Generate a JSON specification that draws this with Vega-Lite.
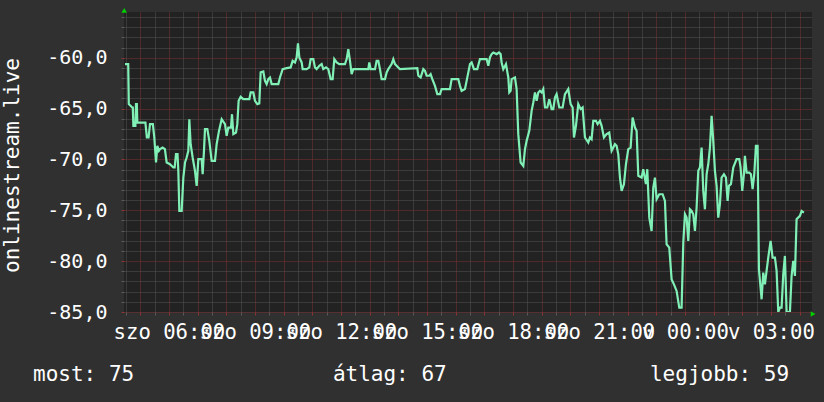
{
  "$schema": "https://vega.github.io/schema/vega-lite/v6.json",
  "width": 688,
  "height": 300,
  "autosize": "none",
  "padding": {"left": 124, "top": 12, "right": 12, "bottom": 90},
  "background": "#303030",
  "config": {
    "view": {"fill": "#222222", "stroke": null},
    "font": "DejaVu Sans Mono",
    "axis": {"domain": false, "labelFont": "DejaVu Sans Mono", "titleFont": "DejaVu Sans Mono"}
  },
  "datasets": {
    "rssi": [
      {"h":4.468,"v":-60.62},{"h":4.58,"v":-60.62},{"h":4.60,"v":-64.56},{"h":4.72,"v":-64.89},{"h":4.74,"v":-64.89},{"h":4.76,"v":-66.69},{"h":4.83,"v":-66.69},{"h":4.852,"v":-64.56},{"h":4.88,"v":-64.56},{"h":4.898,"v":-66.37},{"h":5.18,"v":-66.37},{"h":5.23,"v":-67.84},{"h":5.29,"v":-67.84},{"h":5.34,"v":-66.53},{"h":5.44,"v":-66.53},{"h":5.49,"v":-67.84},{"h":5.55,"v":-70.30},{"h":5.596,"v":-68.66},{"h":5.65,"v":-69.15},{"h":5.69,"v":-68.99},{"h":5.78,"v":-68.83},{"h":5.86,"v":-68.99},{"h":5.921,"v":-70.30},{"h":6.037,"v":-70.47},{"h":6.154,"v":-70.79},{"h":6.20,"v":-70.79},{"h":6.247,"v":-69.48},{"h":6.30,"v":-69.48},{"h":6.328,"v":-71.12},{"h":6.363,"v":-75.06},{"h":6.444,"v":-75.06},{"h":6.503,"v":-71.78},{"h":6.561,"v":-70.30},{"h":6.619,"v":-69.81},{"h":6.677,"v":-69.15},{"h":6.712,"v":-66.04},{"h":6.758,"v":-68.50},{"h":6.828,"v":-69.81},{"h":6.909,"v":-71.12},{"h":6.968,"v":-72.60},{"h":7.026,"v":-69.97},{"h":7.142,"v":-69.97},{"h":7.177,"v":-71.45},{"h":7.223,"v":-69.15},{"h":7.258,"v":-67.02},{"h":7.340,"v":-67.02},{"h":7.409,"v":-68.17},{"h":7.491,"v":-70.14},{"h":7.607,"v":-70.14},{"h":7.665,"v":-68.50},{"h":7.747,"v":-67.19},{"h":7.840,"v":-66.04},{"h":7.956,"v":-66.53},{"h":8.014,"v":-67.68},{"h":8.072,"v":-66.86},{"h":8.165,"v":-66.86},{"h":8.200,"v":-65.55},{"h":8.247,"v":-67.51},{"h":8.340,"v":-67.35},{"h":8.386,"v":-66.53},{"h":8.432,"v":-64.23},{"h":8.502,"v":-63.84},{"h":8.595,"v":-64.07},{"h":8.805,"v":-64.07},{"h":8.851,"v":-63.41},{"h":8.944,"v":-63.41},{"h":9.002,"v":-64.23},{"h":9.084,"v":-64.56},{"h":9.153,"v":-64.50},{"h":9.200,"v":-61.44},{"h":9.293,"v":-61.35},{"h":9.351,"v":-62.27},{"h":9.409,"v":-62.59},{"h":9.467,"v":-62.10},{"h":9.526,"v":-61.94},{"h":9.584,"v":-62.59},{"h":9.816,"v":-62.59},{"h":9.874,"v":-61.94},{"h":9.967,"v":-61.12},{"h":10.107,"v":-61.02},{"h":10.246,"v":-60.95},{"h":10.316,"v":-60.30},{"h":10.397,"v":-60.46},{"h":10.456,"v":-59.97},{"h":10.502,"v":-58.59},{"h":10.549,"v":-59.97},{"h":10.630,"v":-60.46},{"h":10.665,"v":-61.12},{"h":10.804,"v":-61.12},{"h":10.897,"v":-60.95},{"h":10.944,"v":-60.13},{"h":11.037,"v":-60.13},{"h":11.095,"v":-60.95},{"h":11.153,"v":-61.12},{"h":11.246,"v":-60.79},{"h":11.328,"v":-60.62},{"h":11.386,"v":-61.12},{"h":11.479,"v":-60.95},{"h":11.560,"v":-61.12},{"h":11.642,"v":-62.10},{"h":11.711,"v":-62.10},{"h":11.769,"v":-60.13},{"h":11.851,"v":-60.46},{"h":11.944,"v":-60.62},{"h":12.141,"v":-60.62},{"h":12.200,"v":-60.13},{"h":12.258,"v":-59.15},{"h":12.316,"v":-60.30},{"h":12.374,"v":-61.61},{"h":12.432,"v":-61.12},{"h":12.955,"v":-61.12},{"h":12.990,"v":-60.46},{"h":13.037,"v":-61.12},{"h":13.188,"v":-61.12},{"h":13.246,"v":-60.30},{"h":13.304,"v":-60.30},{"h":13.362,"v":-61.12},{"h":13.420,"v":-62.10},{"h":13.537,"v":-62.10},{"h":13.595,"v":-61.44},{"h":13.653,"v":-61.12},{"h":13.769,"v":-60.62},{"h":13.827,"v":-60.13},{"h":13.886,"v":-60.62},{"h":14.002,"v":-60.95},{"h":14.060,"v":-61.12},
      {"h":14.665,"v":-61.02},{"h":14.699,"v":-61.77},{"h":14.781,"v":-61.94},{"h":14.874,"v":-61.12},{"h":14.932,"v":-61.28},{"h":14.990,"v":-61.77},{"h":15.083,"v":-61.77},{"h":15.130,"v":-61.61},{"h":15.188,"v":-62.10},{"h":15.281,"v":-62.76},{"h":15.362,"v":-63.58},{"h":15.455,"v":-63.58},{"h":15.513,"v":-63.08},{"h":15.804,"v":-63.08},{"h":15.862,"v":-62.10},{"h":16.095,"v":-62.10},{"h":16.153,"v":-62.76},{"h":16.211,"v":-63.25},{"h":16.327,"v":-63.08},{"h":16.385,"v":-62.27},{"h":16.502,"v":-60.62},{"h":16.560,"v":-60.46},{"h":16.641,"v":-61.12},{"h":16.757,"v":-61.12},{"h":16.850,"v":-60.13},{"h":17.083,"v":-60.13},{"h":17.141,"v":-60.79},{"h":17.199,"v":-59.97},{"h":17.257,"v":-59.64},{"h":17.316,"v":-59.48},{"h":17.432,"v":-59.64},{"h":17.513,"v":-59.48},{"h":17.571,"v":-59.64},{"h":17.606,"v":-60.46},{"h":17.664,"v":-61.12},{"h":17.757,"v":-60.62},{"h":17.839,"v":-61.94},{"h":17.873,"v":-63.41},{"h":17.920,"v":-63.25},{"h":17.955,"v":-62.10},{"h":18.071,"v":-61.94},{"h":18.129,"v":-63.08},{"h":18.187,"v":-67.51},{"h":18.269,"v":-70.30},{"h":18.362,"v":-70.63},{"h":18.420,"v":-68.99},{"h":18.478,"v":-68.17},{"h":18.571,"v":-67.19},{"h":18.652,"v":-65.22},{"h":18.711,"v":-64.40},{"h":18.769,"v":-63.41},{"h":18.827,"v":-64.23},{"h":18.885,"v":-63.41},{"h":18.943,"v":-63.25},{"h":19.001,"v":-63.41},{"h":19.059,"v":-63.08},{"h":19.118,"v":-64.89},{"h":19.199,"v":-64.89},{"h":19.269,"v":-64.07},{"h":19.350,"v":-65.05},{"h":19.408,"v":-65.05},{"h":19.466,"v":-63.91},{"h":19.524,"v":-63.58},{"h":19.617,"v":-64.89},{"h":19.734,"v":-64.89},{"h":19.815,"v":-63.58},{"h":19.931,"v":-63.08},{"h":20.013,"v":-64.56},{"h":20.083,"v":-64.89},{"h":20.129,"v":-67.84},{"h":20.199,"v":-66.69},{"h":20.280,"v":-64.56},{"h":20.362,"v":-65.05},{"h":20.431,"v":-64.89},{"h":20.513,"v":-67.84},{"h":20.629,"v":-68.33},{"h":20.687,"v":-67.84},{"h":20.745,"v":-68.01},{"h":20.803,"v":-66.20},{"h":20.896,"v":-66.20},{"h":20.954,"v":-66.53},{"h":21.036,"v":-66.20},{"h":21.094,"v":-66.69},{"h":21.175,"v":-67.84},{"h":21.268,"v":-67.51},{"h":21.361,"v":-67.35},{"h":21.443,"v":-69.15},{"h":21.559,"v":-68.50},{"h":21.617,"v":-68.66},{"h":21.675,"v":-69.48},{"h":21.734,"v":-71.78},{"h":21.792,"v":-73.09},{"h":21.873,"v":-72.43},{"h":21.943,"v":-70.47},{"h":22.024,"v":-68.99},{"h":22.106,"v":-68.83},{"h":22.175,"v":-65.87},{"h":22.257,"v":-66.86},{"h":22.315,"v":-67.19},{"h":22.373,"v":-71.61},{"h":22.489,"v":-71.78},{"h":22.547,"v":-70.96},{"h":22.640,"v":-72.43},{"h":22.687,"v":-70.96},{"h":22.757,"v":-75.72},{"h":22.838,"v":-77.03},{"h":22.896,"v":-72.76},{"h":22.954,"v":-71.78},{"h":23.012,"v":-73.91},{"h":23.105,"v":-73.42},{"h":23.222,"v":-73.42},{"h":23.303,"v":-74.08},{"h":23.361,"v":-78.34},{"h":23.454,"v":-78.67},{"h":23.536,"v":-81.79},{"h":23.617,"v":-82.28},{"h":23.710,"v":-82.93},{"h":23.803,"v":-84.57},{"h":23.884,"v":-84.57},{"h":23.943,"v":-78.18},{"h":24.001,"v":-75.39},{"h":24.059,"v":-75.72},{"h":24.117,"v":-78.01},{"h":24.175,"v":-74.90},{"h":24.233,"v":-75.06},{"h":24.291,"v":-75.39},{"h":24.350,"v":-77.03},{"h":24.408,"v":-74.73},{"h":24.466,"v":-71.12},{"h":24.524,"v":-70.79},{"h":24.582,"v":-68.83},{"h":24.640,"v":-73.09},{"h":24.698,"v":-74.90},{"h":24.756,"v":-71.45},{"h":24.814,"v":-70.47},{"h":24.873,"v":-68.83},{"h":24.931,"v":-65.71},{"h":24.989,"v":-68.17},{"h":25.047,"v":-71.12},{"h":25.105,"v":-72.60},{"h":25.163,"v":-75.72},{"h":25.221,"v":-74.40},{"h":25.279,"v":-71.78},{"h":25.361,"v":-71.45},{"h":25.431,"v":-71.78},{"h":25.489,"v":-74.08},{"h":25.535,"v":-72.60},{"h":25.605,"v":-72.43},{"h":25.686,"v":-70.79},{"h":25.803,"v":-69.97},{"h":25.896,"v":-69.97},{"h":25.942,"v":-70.79},{"h":26.000,"v":-73.09},{"h":26.058,"v":-71.45},{"h":26.093,"v":-69.65},{"h":26.152,"v":-71.29},{"h":26.245,"v":-71.29},{"h":26.303,"v":-71.45},{"h":26.361,"v":-72.93},{"h":26.419,"v":-71.45},{"h":26.477,"v":-68.66},{"h":26.535,"v":-68.66},{"h":26.582,"v":-80.80},{"h":26.675,"v":-83.75},{"h":26.733,"v":-81.13},{"h":26.791,"v":-82.28},{"h":26.849,"v":-80.96},{"h":26.907,"v":-79.65},{"h":26.989,"v":-78.01},{"h":27.058,"v":-79.65},{"h":27.140,"v":-79.65},{"h":27.198,"v":-80.96},{"h":27.256,"v":-85.0},{"h":27.314,"v":-84.57},{"h":27.372,"v":-84.57},{"h":27.430,"v":-81.29},{"h":27.488,"v":-79.49},{"h":27.547,"v":-85.0},{"h":27.663,"v":-85.0},{"h":27.721,"v":-81.46},{"h":27.779,"v":-79.98},{"h":27.837,"v":-81.46},{"h":27.895,"v":-75.88},{"h":28.012,"v":-75.55},{"h":28.070,"v":-75.06},{"h":28.151,"v":-75.22}
    ],
    "stats": [
      {"stat": "most", "label": "most: 75"},
      {"stat": "atlag", "label": "átlag: 67"},
      {"stat": "legjobb", "label": "legjobb: 59"}
    ]
  },
  "layer": [
    {
      "data": {"name": "rssi"},
      "mark": {"type": "line", "color": "#80f0b6", "strokeWidth": 2.2, "clip": true},
      "encoding": {
        "x": {"field": "h", "type": "quantitative",
          "scale": {"domain": [4.433, 28.433], "nice": false, "zero": false},
          "axis": {"orient": "bottom", "title": null, "domain": false, "tickCount": 200,
            "values": [4.5,5,5.5,6,6.5,7,7.5,8,8.5,9,9.5,10,10.5,11,11.5,12,12.5,13,13.5,14,14.5,15,15.5,16,16.5,17,17.5,18,18.5,19,19.5,20,20.5,21,21.5,22,22.5,23,23.5,24,24.5,25,25.5,26,26.5,27,27.5,28],
            "grid": true,
            "gridColor": {"condition": {"test": "datum.value % 1 === 0", "value": "#7e3232"}, "value": "#555555"},
            "gridDash": [1, 1],
            "ticks": true, "tickSize": 3,
            "tickColor": {"condition": {"test": "datum.value % 1 === 0", "value": "#8a3434"}, "value": "#5a5a5a"},
            "labelOverlap": false, "labelBound": false, "labelFlush": false,
            "labelColor": "#ffffff", "labelFontSize": 20.6, "labelBaseline": "alphabetic", "labelPadding": 23,
            "labelExpr": "(datum.value % 3 === 0) ? ((datum.value < 24 ? 'szo ' : 'v ') + ((datum.value % 24) < 10 ? '0' : '') + (datum.value % 24) + ':00') : ''"}},
        "y": {"field": "v", "type": "quantitative",
          "scale": {"domain": [-85, -55.5], "nice": false, "zero": false},
          "axis": {"orient": "left", "domain": false, "tickCount": 200,
            "values": [-85,-84,-83,-82,-81,-80,-79,-78,-77,-76,-75,-74,-73,-72,-71,-70,-69,-68,-67,-66,-65,-64,-63,-62,-61,-60,-59,-58,-57,-56],
            "grid": true,
            "gridColor": {"condition": {"test": "datum.value % 5 === 0", "value": "#7e3232"}, "value": "#555555"},
            "gridDash": [1, 1],
            "ticks": true, "tickSize": 3,
            "tickColor": {"condition": {"test": "datum.value % 5 === 0", "value": "#8a3434"}, "value": "#5a5a5a"},
            "labelOverlap": false, "labelBound": false, "labelFlush": false,
            "labelColor": "#ffffff", "labelFontSize": 20, "labelPadding": 14,
            "labelExpr": "(datum.value % 5 === 0) ? ('-' + replace(format(-datum.value, '.1f'), '.', ',')) : ''",
            "title": "onlinestream.live", "titleColor": "#ffffff", "titleFontSize": 21, "titleFontWeight": "normal",
            "titleAngle": -90, "titleX": -112, "titleY": 153, "titleAlign": "center", "titleBaseline": "middle"}}
      }
    },
    {
      "data": {"values": [{"arrow": "up"}]},
      "mark": {"type": "point", "shape": "triangle-up", "filled": true, "color": "#00d000", "size": 30, "opacity": 1},
      "encoding": {"x": {"datum": 4.44, "type": "quantitative"}, "y": {"datum": -55.35, "type": "quantitative"}}
    },
    {
      "data": {"values": [{"arrow": "right"}]},
      "mark": {"type": "point", "shape": "triangle-right", "filled": true, "color": "#00d000", "size": 30, "opacity": 1},
      "encoding": {"x": {"datum": 28.47, "type": "quantitative"}, "y": {"datum": -85.2, "type": "quantitative"}}
    },
    {
      "data": {"name": "stats"},
      "transform": [{"filter": "datum.stat == 'most'"}],
      "mark": {"type": "text", "align": "left", "baseline": "alphabetic", "color": "#ffffff", "fontSize": 21, "font": "DejaVu Sans Mono"},
      "encoding": {"x": {"datum": 1.26, "type": "quantitative"}, "y": {"datum": -91.8, "type": "quantitative"}, "text": {"field": "label"}}
    },
    {
      "data": {"name": "stats"},
      "transform": [{"filter": "datum.stat == 'atlag'"}],
      "mark": {"type": "text", "align": "left", "baseline": "alphabetic", "color": "#ffffff", "fontSize": 21, "font": "DejaVu Sans Mono"},
      "encoding": {"x": {"datum": 11.72, "type": "quantitative"}, "y": {"datum": -91.8, "type": "quantitative"}, "text": {"field": "label"}}
    },
    {
      "data": {"name": "stats"},
      "transform": [{"filter": "datum.stat == 'legjobb'"}],
      "mark": {"type": "text", "align": "left", "baseline": "alphabetic", "color": "#ffffff", "fontSize": 21, "font": "DejaVu Sans Mono"},
      "encoding": {"x": {"datum": 22.78, "type": "quantitative"}, "y": {"datum": -91.8, "type": "quantitative"}, "text": {"field": "label"}}
    }
  ]
}
